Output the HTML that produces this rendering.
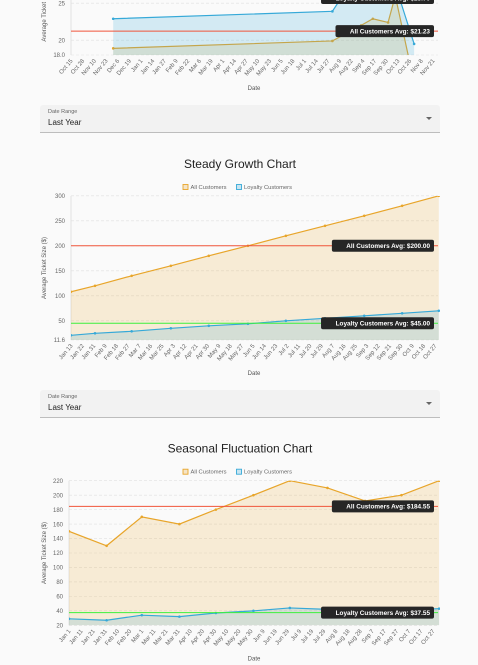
<!DOCTYPE html>
<html><head><meta charset="utf-8">
<style>
html,body{margin:0;padding:0;background:#fafafa;width:478px;height:665px;overflow:hidden;font-family:"Liberation Sans",sans-serif;}
#root{position:relative;width:478px;height:665px;}
svg{position:absolute;left:0;top:0;}
.sel{position:absolute;left:40px;width:400px;height:27px;background:#f2f2f2;border-bottom:1px solid #bdbdbd;border-radius:3px 3px 0 0;}
.sel .lbl{position:absolute;left:8px;top:4px;font-size:5.5px;color:#666;}
.sel .val{position:absolute;left:8px;top:13px;font-size:8px;color:#222;}
.sel .arr{position:absolute;right:8px;top:12px;width:0;height:0;border-left:3px solid transparent;border-right:3px solid transparent;border-top:3px solid #666;}
</style></head>
<body><div id="root">
<svg id="svg" width="478" height="665"></svg>
<div class="sel" style="top:105px"><div class="lbl">Date Range</div><div class="val">Last Year</div><div class="arr"></div></div>
<div class="sel" style="top:390px"><div class="lbl">Date Range</div><div class="val">Last Year</div><div class="arr"></div></div>
</div>
<script>
// ---- Chart 1 (partial, top) ----
const c1Ticks = ["Oct 15","Oct 28","Nov 10","Nov 23","Dec 6","Dec 19","Jan 1","Jan 14","Jan 27","Feb 9","Feb 22","Mar 6","Mar 19","Apr 1","Apr 14","Apr 27","May 10","May 23","Jun 5","Jun 18","Jul 1","Jul 14","Jul 27","Aug 9","Aug 22","Sep 4","Sep 17","Sep 30","Oct 13","Oct 26","Nov 8","Nov 21"];
const c1AllDays = [47,291,323,336,353,361,378];
const c1AllVals = [18.9,19.9,22.0,22.9,22.4,26.0,16.5];
const c1LoyDays = [47,291,305,367,382];
const c1LoyVals = [22.9,23.9,26.5,25.2,19.5];
const c1YTicks = [25,20,18.0];
const c1YLabels = ["25","20","18.0"];
const c1AllAvg = 21.23;
const c1LoyAvg = 25.70;
// ---- Chart 2 ----
const c2Ticks = ["Jan 13","Jan 22","Jan 31","Feb 9","Feb 18","Feb 27","Mar 7","Mar 16","Mar 25","Apr 3","Apr 12","Apr 21","Apr 30","May 9","May 18","May 27","Jun 5","Jun 14","Jun 23","Jul 2","Jul 11","Jul 20","Jul 29","Aug 7","Aug 16","Aug 25","Sep 3","Sep 12","Sep 21","Sep 30","Oct 9","Oct 18","Oct 27"];
const c2Days = [0,19,48,79,109,140,170,201,232,262,291];
const c2AllVals = [108,120,140,160,180,200,220,240,260,280,300];
const c2LoyVals = [21,25,29,35,40,44,50,55,60,65,70];
const c2YTicks = [300,250,200,150,100,50,11.6];
const c2YLabels = ["300","250","200","150","100","50","11.6"];
const c2AllAvg = 200.00;
const c2LoyAvg = 45.00;
// ---- Chart 3 ----
const c3Ticks = ["Jan 1","Jan 11","Jan 21","Jan 31","Feb 10","Feb 20","Mar 1","Mar 11","Mar 21","Mar 31","Apr 10","Apr 20","Apr 30","May 10","May 20","May 30","Jun 9","Jun 19","Jun 29","Jul 9","Jul 19","Jul 29","Aug 8","Aug 18","Aug 28","Sep 7","Sep 17","Sep 27","Oct 7","Oct 17","Oct 27"];
const c3Days = [0,31,60,91,121,152,182,213,244,274,305];
const c3AllVals = [150,130,170,160,180,200,220,210,192,200,220];
const c3LoyVals = [29,27,34,32,37,40,44,42,40,41,43];
const c3YTicks = [220,200,180,160,140,120,100,80,60,40,20];
const c3YLabels = ["220","200","180","160","140","120","100","80","60","40","20"];
const c3AllAvg = 184.55;
const c3LoyAvg = 37.55;

const NS="http://www.w3.org/2000/svg";
const svg=document.getElementById('svg');
function mk(tag,attrs,parent){const e=document.createElementNS(NS,tag);for(const k in attrs)e.setAttribute(k,attrs[k]);(parent||svg).appendChild(e);return e;}
const ORANGE="#e8a52a", BLUE="#36a9d8";

function drawChart(o){
  const g=mk('g',{});
  
  
  const xS=d=>o.x0+(d/o.tickStep)*o.tickPx;
  const yS=v=>o.yBot-(v-o.ymin)*o.ppu;
  const cid='clip'+o.name;
  const cp=mk('clipPath',{id:cid},g);mk('rect',{x:o.x0,y:Math.max(0,o.yTop),width:o.x1-o.x0+2,height:o.yBot-Math.max(0,o.yTop)+(o.noClipBottom?12:0)},cp);
  o.yTicks.forEach((v,i)=>{
    const y=yS(v);
    const gl=mk('line',{x1:o.x0,x2:o.x1,y1:y,y2:y,stroke:'#e0e0e0','stroke-width':0.6,'stroke-dasharray':'3,2'},g);
    
    
    const t=mk('text',{x:o.x0-6,y:y+2.2,'font-size':6,fill:'#666','text-anchor':'end'},g);
    t.textContent=o.yLabels[i];
    
    
  });
  const ax=mk('line',{x1:o.x0,x2:o.x0,y1:Math.max(0,o.yTop),y2:o.yBot,stroke:'#ddd','stroke-width':0.8},g);
  
  
  const inner=mk('g',{'clip-path':'url(#'+cid+')'},g);
  function series(days,vals,color,fill,nm){
    let pts=days.map((d,i)=>[xS(d),yS(vals[i])]);
    const area=mk('path',{d:'M'+pts[0][0]+','+o.yBot+' L'+pts.map(p=>p.join(',')).join(' L')+' L'+pts[pts.length-1][0]+','+o.yBot+' Z',fill:fill,stroke:'none'},inner);
    
    
    const ln=mk('polyline',{points:pts.map(p=>p.join(',')).join(' '),fill:'none',stroke:color,'stroke-width':1.2},inner);
    
    
    pts.forEach(p=>{const c=mk('circle',{cx:p[0],cy:p[1],r:1.3,fill:color},inner);
      
      });
  }
  series(o.allDays,o.allVals,ORANGE,'rgba(232,165,42,0.18)','all-customers');
  series(o.loyDays,o.loyVals,BLUE,o.loyFill,'loyalty-customers');
  function avg(v,color,label,nm){
    const y=yS(v);
    const l=mk('line',{x1:o.x0,x2:o.x1,y1:y,y2:y,stroke:color,'stroke-width':1},g);
    
    
    const w=label.length*3.62+8;
    const r=mk('rect',{x:434-w,y:y-6,width:w,height:12,rx:2,fill:'#262626'},g);
    
    
    const t=mk('text',{x:430,y:y+2.3,'font-size':6.4,'font-weight':'bold',fill:'#fff','text-anchor':'end'},g);
    t.textContent=label;
    
    
  }
  if(o.loyAvg!=null) avg(o.loyAvg,'#3df03d','Loyalty Customers Avg: $'+o.loyAvg.toFixed(2),'loyalty');
  avg(o.allAvg,'#f0553a','All Customers Avg: $'+o.allAvg.toFixed(2),'all');
  o.ticks.forEach((s,i)=>{
    const x=o.x0+i*o.tickPx+2, y=o.yBot+6;
    const t=mk('text',{x:x,y:y,'font-size':6,fill:'#666','text-anchor':'end',transform:'rotate(-50 '+x+' '+y+')'},g);
    t.textContent=s;
    
    
  });
  const xt=mk('text',{x:254,y:o.yBot+35,'font-size':6,fill:'#555','text-anchor':'middle'},g);
  xt.textContent='Date';
  
  
  const yc=(Math.max(o.yTop,-60)+o.yBot)/2;
  const yt=mk('text',{x:46,y:yc,'font-size':6,fill:'#555','text-anchor':'middle',transform:'rotate(-90 46 '+yc+')'},g);
  yt.textContent='Average Ticket Size ($)';
  
  
  if(o.title){
    const tt=mk('text',{x:240,y:o.yTop-28,'font-size':12,fill:'#222','text-anchor':'middle'},g);
    tt.textContent=o.title;
    
    
    const ly=o.yTop-7;
    const b1=mk('rect',{x:183,y:ly-4.5,width:5,height:5,fill:'rgba(232,165,42,0.25)',stroke:ORANGE,'stroke-width':0.9},g);
    
    
    const t1=mk('text',{x:190.5,y:ly,'font-size':5.8,fill:'#666'},g);t1.textContent='All Customers';
    
    
    const b2=mk('rect',{x:236.5,y:ly-4.5,width:5,height:5,fill:'rgba(54,169,216,0.25)',stroke:BLUE,'stroke-width':0.9},g);
    
    
    const t2=mk('text',{x:244,y:ly,'font-size':5.8,fill:'#666'},g);t2.textContent='Loyalty Customers';
    
    
  }
}
drawChart({name:'chart-1',x0:71,x1:438,yBot:55,ymin:18,ppu:7.4,yTop:55-12*7.4,yTicks:c1YTicks,yLabels:c1YLabels,
  ticks:c1Ticks,tickStep:13,tickPx:(433-71)/31,allDays:c1AllDays,allVals:c1AllVals,loyDays:c1LoyDays,loyVals:c1LoyVals,
  loyFill:'rgba(54,169,216,0.2)',allAvg:c1AllAvg,loyAvg:c1LoyAvg});
drawChart({name:'chart-2',title:'Steady Growth Chart',x0:71,x1:438,yBot:340,ymin:11.6,ppu:0.5,yTop:196,yTicks:c2YTicks,yLabels:c2YLabels,
  ticks:c2Ticks,tickStep:9,tickPx:(435-71)/32,allDays:c2Days,allVals:c2AllVals,loyDays:c2Days,loyVals:c2LoyVals,
  loyFill:'rgba(54,169,216,0.18)',allAvg:c2AllAvg,loyAvg:c2LoyAvg});
drawChart({name:'chart-3',title:'Seasonal Fluctuation Chart',x0:69,x1:438,yBot:625.3,ymin:20,ppu:0.723,yTop:480.7,yTicks:c3YTicks,yLabels:c3YLabels,
  ticks:c3Ticks,tickStep:10,tickPx:(433-69)/30,allDays:c3Days,allVals:c3AllVals,loyDays:c3Days,loyVals:c3LoyVals,
  loyFill:'rgba(54,169,216,0.18)',allAvg:c3AllAvg,loyAvg:c3LoyAvg});
</script>
</body></html>
